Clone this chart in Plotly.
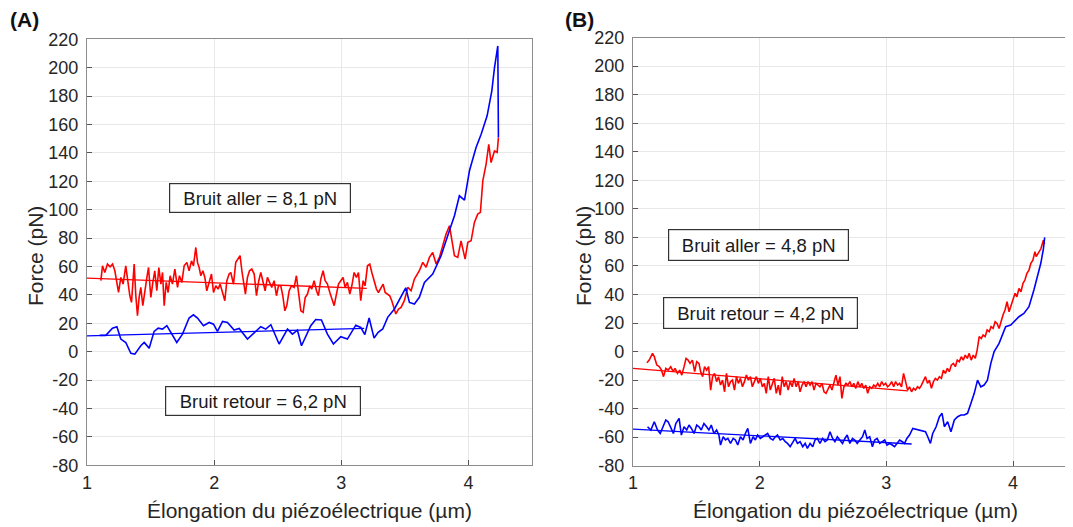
import plotly.graph_objects as go

# ---------------- Panel A data ----------------
a_red_x = [1.109, 1.122, 1.140, 1.161, 1.182, 1.201, 1.219, 1.235, 1.248, 1.266, 1.284, 1.305, 1.318, 1.337,
           1.350, 1.371, 1.384, 1.397, 1.410, 1.423, 1.439, 1.455, 1.471, 1.484, 1.502, 1.518, 1.533, 1.549,
           1.565, 1.581, 1.594, 1.607, 1.623, 1.638, 1.654, 1.672, 1.691, 1.712, 1.727, 1.746, 1.764, 1.785,
           1.803, 1.822, 1.837, 1.856, 1.869, 1.882, 1.895, 1.911, 1.927, 1.942, 1.961, 1.979, 1.995, 2.013,
           2.031, 2.047, 2.066, 2.084, 2.100, 2.118, 2.131, 2.152, 2.170, 2.189, 2.204, 2.218, 2.231, 2.246,
           2.262, 2.278, 2.296, 2.315, 2.333, 2.351, 2.367, 2.385, 2.401, 2.419, 2.438, 2.453, 2.472, 2.490,
           2.506, 2.524, 2.540, 2.556, 2.571, 2.590, 2.608, 2.629, 2.647, 2.663, 2.682, 2.700, 2.716, 2.734,
           2.752, 2.768, 2.786, 2.805, 2.820, 2.839, 2.857, 2.873, 2.891, 2.910, 2.925, 2.944, 2.962, 2.978,
           2.996, 3.014, 3.030, 3.048, 3.067, 3.083, 3.101, 3.119, 3.135, 3.153, 3.172, 3.187, 3.206, 3.224,
           3.240, 3.258, 3.277, 3.292, 3.311, 3.329, 3.345, 3.363, 3.381, 3.397, 3.415, 3.429, 3.450, 3.470,
           3.496, 3.523, 3.549, 3.575, 3.614, 3.641, 3.667, 3.693, 3.719, 3.746, 3.772, 3.798, 3.824, 3.851,
           3.864, 3.890, 3.916, 3.942, 3.974, 3.995, 4.021, 4.047, 4.073, 4.094, 4.113, 4.139, 4.160, 4.178,
           4.205, 4.226, 4.236]
a_red_y = [50.0, 60.5, 55.8, 61.7, 59.8, 61.7, 57.0, 47.6, 41.7, 52.3, 47.6, 60.5, 50.0, 39.4,
           34.7, 61.7, 39.4, 25.3, 38.2, 45.3, 32.4, 44.1, 52.3, 59.3, 38.2, 48.8, 57.0, 42.9,
           59.3, 47.6, 55.8, 32.4, 48.8, 41.7, 53.5, 47.6, 58.2, 45.3, 53.5, 48.8, 60.5, 62.9,
           57.0, 64.0, 60.5, 73.4, 62.9, 59.3, 53.5, 57.0, 52.3, 42.9, 50.0, 54.7, 41.7, 46.4,
           44.1, 47.6, 41.7, 35.9, 50.0, 54.7, 55.8, 47.6, 62.9, 65.2, 67.6, 57.0, 50.0, 40.6,
           52.3, 57.0, 58.2, 54.7, 39.4, 50.0, 55.8, 48.8, 42.9, 52.3, 47.6, 45.3, 50.0, 39.4,
           46.4, 46.4, 39.4, 28.8, 32.4, 42.9, 46.4, 45.3, 53.5, 40.6, 28.8, 27.7, 38.2, 40.6,
           46.4, 44.1, 50.0, 42.9, 39.4, 51.1, 57.0, 50.0, 47.6, 41.7, 38.2, 32.4, 40.6, 47.6,
           50.0, 52.3, 45.3, 48.8, 40.6, 46.4, 55.8, 52.3, 55.8, 35.9, 50.0, 46.4, 60.5, 61.7,
           55.8, 50.0, 44.1, 41.7, 45.3, 47.6, 41.7, 40.6, 39.4, 35.9, 31.3, 26.6, 30.0, 31.2,
           35.9, 45.3, 43.0, 51.2, 57.0, 62.9, 59.4, 66.4, 69.9, 61.7, 66.4, 74.6, 82.8, 88.7,
           80.5, 67.6, 66.4, 78.1, 65.2, 77.0, 78.1, 91.0, 96.9, 98.1, 120.3, 132.1, 146.1, 133.2,
           141.4, 140.3, 150.8]

a_blue_x = [1.100, 1.148, 1.200, 1.235, 1.266, 1.305, 1.345, 1.376, 1.423, 1.450, 1.489, 1.528, 1.560,
            1.594, 1.628, 1.659, 1.706, 1.751, 1.803, 1.837, 1.869, 1.916, 1.961, 1.995, 2.026, 2.066,
            2.105, 2.157, 2.197, 2.262, 2.315, 2.367, 2.406, 2.446, 2.511, 2.577, 2.616, 2.655, 2.687,
            2.760, 2.799, 2.844, 2.891, 2.938, 2.996, 3.048, 3.114, 3.153, 3.185, 3.219, 3.258, 3.290,
            3.326, 3.365, 3.418, 3.470, 3.507, 3.536, 3.575, 3.614, 3.654, 3.719, 3.785, 3.850, 3.890,
            3.929, 3.969, 4.008, 4.060, 4.100, 4.147, 4.184, 4.205, 4.231, 4.236]
a_blue_y = [11.5, 11.5, 16.6, 17.6, 8.9, 6.5, -1.2, -1.7, 4.2, 6.5, 2.5, 14.3, 16.6,
            15.9, 18.3, 13.6, 6.5, 12.4, 23.7, 26.0, 23.7, 18.3, 20.6, 19.4, 14.3, 21.3,
            20.6, 15.2, 16.4, 8.9, 13.6, 17.6, 15.9, 19.0, 5.4, 15.9, 12.4, 15.2, 4.2,
            18.3, 22.7, 22.3, 12.4, 5.4, 10.5, 8.9, 18.7, 17.1, 12.0, 23.7, 9.6, 13.7,
            16.0, 24.2, 30.1, 38.3, 45.0, 34.7, 33.6, 38.3, 48.8, 54.7, 67.6, 85.2, 95.7,
            109.8, 106.8, 127.4, 143.8, 153.2, 166.1, 183.7, 200.1, 215.3, 150.8]

a_red_fit_x = [1.0, 3.2]
a_red_fit_y = [51.8, 44.6]
a_blue_fit_x = [1.0, 3.18]
a_blue_fit_y = [11.2, 16.4]

# ---------------- Panel B data ----------------
b_red_x = [1.110, 1.128, 1.154, 1.168, 1.188, 1.207, 1.225, 1.241, 1.259, 1.277, 1.298, 1.317, 1.332,
           1.351, 1.369, 1.385, 1.403, 1.419, 1.435, 1.450, 1.469, 1.487, 1.503, 1.521, 1.534, 1.550,
           1.565, 1.581, 1.597, 1.613, 1.628, 1.644, 1.660, 1.675, 1.691, 1.707, 1.723, 1.738, 1.754,
           1.770, 1.785, 1.801, 1.817, 1.832, 1.848, 1.864, 1.880, 1.895, 1.911, 1.927, 1.942, 1.958,
           1.974, 1.990, 2.005, 2.021, 2.037, 2.052, 2.068, 2.084, 2.099, 2.115, 2.131, 2.147, 2.162,
           2.178, 2.194, 2.209, 2.225, 2.241, 2.257, 2.272, 2.288, 2.304, 2.319, 2.335, 2.351, 2.366,
           2.382, 2.398, 2.414, 2.429, 2.445, 2.461, 2.476, 2.492, 2.508, 2.524, 2.539, 2.555, 2.571,
           2.586, 2.602, 2.618, 2.634, 2.649, 2.665, 2.681, 2.696, 2.712, 2.728, 2.743, 2.759, 2.775,
           2.791, 2.806, 2.822, 2.838, 2.853, 2.869, 2.885, 2.901, 2.916, 2.932, 2.948, 2.963, 2.979,
           2.995, 3.010, 3.026, 3.042, 3.058, 3.073, 3.089, 3.105, 3.120, 3.136, 3.152, 3.168, 3.183,
           3.199, 3.215, 3.230, 3.246, 3.262, 3.277, 3.293, 3.309, 3.325, 3.340, 3.356, 3.372, 3.387,
           3.403, 3.419, 3.435, 3.450, 3.466, 3.482, 3.497, 3.513, 3.529, 3.545, 3.560, 3.576, 3.592,
           3.607, 3.623, 3.639, 3.654, 3.670, 3.686, 3.702, 3.717, 3.733, 3.749, 3.764, 3.780, 3.796,
           3.812, 3.827, 3.843, 3.859, 3.874, 3.890, 3.906, 3.921, 3.937, 3.953, 3.969, 3.984, 4.000,
           4.016, 4.031, 4.047, 4.063, 4.079, 4.094, 4.110, 4.126, 4.141, 4.157, 4.173, 4.183, 4.199,
           4.220, 4.240, 4.250]
b_red_y = [-7.8, -6.0, -1.3, -3.6, -9.5, -10.6, -13.0, -17.6, -11.8, -13.0, -10.6, -14.1, -11.8,
           -15.3, -13.0, -16.5, -10.6, -4.8, -6.0, -8.3, -6.0, -14.1, -7.1, -8.3, -14.1, -17.6,
           -10.6, -13.0, -10.6, -27.0, -17.6, -15.3, -21.1, -17.6, -23.5, -20.0, -28.2, -15.3, -24.7,
           -21.1, -20.0, -27.0, -17.6, -22.3, -18.8, -24.7, -21.1, -16.5, -20.0, -17.6, -24.7, -21.1,
           -17.6, -22.3, -18.8, -24.7, -22.3, -29.3, -17.6, -27.0, -22.3, -18.8, -29.3, -23.5, -30.5,
           -17.6, -24.7, -21.1, -27.0, -21.1, -24.7, -18.8, -24.7, -21.1, -28.2, -23.5, -21.1, -24.7,
           -21.1, -23.5, -21.1, -27.0, -22.3, -23.5, -24.7, -22.3, -28.2, -29.3, -25.8, -23.5, -27.0,
           -22.3, -16.5, -23.5, -17.6, -32.8, -24.7, -22.3, -23.5, -21.1, -24.7, -22.3, -25.8, -21.1,
           -24.7, -22.3, -25.8, -23.5, -29.3, -24.7, -25.8, -23.5, -24.7, -22.3, -24.7, -21.1, -23.5,
           -22.3, -24.7, -23.5, -21.1, -24.7, -21.1, -23.5, -22.3, -24.7, -15.3, -21.1, -27.0, -24.7,
           -28.2, -25.8, -27.0, -24.7, -25.8, -23.5, -20.0, -17.6, -22.3, -20.0, -25.8, -21.1, -18.8,
           -20.0, -17.6, -18.8, -13.0, -15.3, -11.8, -14.1, -9.5, -8.3, -10.6, -6.0, -7.1, -3.6,
           -6.0, -2.5, -4.8, -1.3, -6.0, -2.5, -4.8, 1.0, 10.4, 9.2, 11.6, 10.4, 15.1,
           13.9, 17.4, 16.2, 20.9, 19.7, 16.2, 22.1, 25.6, 29.1, 34.9, 27.9, 32.6, 36.1,
           40.8, 38.4, 44.3, 41.9, 47.8, 50.1, 54.8, 57.1, 61.8, 64.1, 70.0, 66.5, 68.8,
           72.0, 78.0, 75.5]

b_blue_x = [1.115, 1.141, 1.168, 1.194, 1.215, 1.233, 1.259, 1.277, 1.298, 1.319, 1.338, 1.364, 1.382,
            1.403, 1.424, 1.442, 1.461, 1.482, 1.503, 1.521, 1.539, 1.560, 1.581, 1.599, 1.618, 1.639,
            1.660, 1.678, 1.691, 1.712, 1.730, 1.749, 1.770, 1.791, 1.809, 1.827, 1.848, 1.869, 1.887,
            1.906, 1.927, 1.948, 1.966, 1.984, 2.005, 2.026, 2.045, 2.063, 2.084, 2.105, 2.123, 2.141,
            2.162, 2.183, 2.202, 2.220, 2.241, 2.262, 2.280, 2.298, 2.319, 2.340, 2.359, 2.377, 2.398,
            2.419, 2.437, 2.455, 2.476, 2.497, 2.516, 2.534, 2.555, 2.576, 2.594, 2.613, 2.634, 2.654,
            2.673, 2.691, 2.712, 2.733, 2.751, 2.770, 2.791, 2.812, 2.830, 2.848, 2.869, 2.890, 2.908,
            2.927, 2.948, 2.969, 2.987, 3.005, 3.026, 3.047, 3.065, 3.084, 3.105, 3.126, 3.144, 3.162,
            3.183, 3.209, 3.236, 3.262, 3.288, 3.309, 3.327, 3.348, 3.366, 3.393, 3.419, 3.440, 3.458,
            3.484, 3.510, 3.537, 3.563, 3.589, 3.615, 3.641, 3.668, 3.694, 3.720, 3.746, 3.772, 3.798,
            3.825, 3.851, 3.890, 3.942, 3.982, 4.021, 4.047, 4.086, 4.126, 4.165, 4.191, 4.220, 4.240,
            4.250]
b_blue_y = [-52.7, -55.0, -49.2, -55.0, -57.4, -53.9, -48.0, -49.2, -53.9, -57.4, -50.4, -46.8, -58.5,
            -52.7, -55.0, -51.5, -53.9, -57.4, -51.5, -52.7, -55.0, -50.4, -52.7, -55.0, -51.5, -57.4,
            -55.0, -58.5, -65.5, -59.7, -62.0, -60.9, -64.4, -60.9, -62.0, -65.5, -59.7, -62.0, -57.4,
            -53.9, -64.4, -59.7, -62.0, -58.5, -60.9, -59.7, -58.5, -57.4, -60.9, -62.0, -59.7, -58.5,
            -62.0, -60.9, -63.2, -64.4, -66.7, -63.2, -60.9, -64.4, -63.2, -66.7, -64.4, -67.9, -64.4,
            -66.7, -62.0, -60.9, -64.4, -60.9, -63.2, -62.0, -56.2, -60.9, -63.2, -59.7, -62.0, -64.4,
            -60.9, -58.5, -64.4, -60.9, -62.0, -64.4, -62.0, -59.7, -55.0, -60.9, -59.7, -66.7, -62.0,
            -60.9, -64.4, -63.2, -62.0, -65.5, -64.4, -65.5, -66.7, -64.4, -62.0, -63.2, -64.4, -60.9,
            -58.5, -53.9, -54.6, -55.0, -56.2, -56.2, -59.7, -64.4, -57.4, -52.7, -45.7, -43.3, -52.7,
            -49.2, -56.2, -48.0, -45.7, -44.5, -44.5, -43.3, -36.3, -29.3, -20.0, -24.7, -23.5, -20.0,
            -8.3, -0.1, 5.7, 17.4, 18.6, 22.1, 24.4, 26.7, 31.4, 43.1, 51.3, 62.0, 72.0,
            80.0]

b_red_fit_x = [1.0, 3.17]
b_red_fit_y = [-11.8, -27.5]
b_blue_fit_x = [1.0, 3.2]
b_blue_fit_y = [-54.3, -64.8]

y_ticks = [-80, -60, -40, -20, 0, 20, 40, 60, 80, 100, 120, 140, 160, 180, 200, 220]
y_tick_text = ["-80", "-60", "-40", "-20", "0", "20", "40", "60", "80", "100", "120", "140",
               "160", "180", "200", "220"]
x_ticks = [1, 2, 3, 4]
x_tick_text = ["1", "2", "3", "4"]
labels_a = ["Bruit aller = 8,1 pN", "Bruit retour = 6,2 pN"]
labels_b = ["Bruit aller = 4,8 pN", "Bruit retour = 4,2 pN"]
panel_titles = ["(A)", "(B)"]
x_title = "Élongation du piézoélectrique (µm)"
y_title = "Force (pN)"

RED = "#ff0000"
BLUE = "#0000ff"
# the page body adds an 8px margin at top-left, so the figure is 8px smaller
OFF = 8
W, H = 1073 - OFF, 527 - OFF
FONT = "Liberation Sans, Arial, sans-serif"

fig = go.Figure()

def add(x, y, color, xa, ya, width=1.6):
    fig.add_trace(go.Scatter(x=x, y=y, mode="lines", line=dict(color=color, width=width),
                             xaxis=xa, yaxis=ya, showlegend=False, hoverinfo="skip"))

add(a_red_x, a_red_y, RED, "x", "y")
add(a_blue_x, a_blue_y, BLUE, "x", "y")
add(a_red_fit_x, a_red_fit_y, RED, "x", "y", 1.3)
add(a_blue_fit_x, a_blue_fit_y, BLUE, "x", "y", 1.3)
add(b_red_x, b_red_y, RED, "x2", "y2")
add(b_blue_x, b_blue_y, BLUE, "x2", "y2")
add(b_red_fit_x, b_red_fit_y, RED, "x2", "y2", 1.3)
add(b_blue_fit_x, b_blue_fit_y, BLUE, "x2", "y2", 1.3)

# pixel geometry in screenshot coordinates
ax_a = dict(l=87, r=532, t=39.3, b=465.3)
ax_b = dict(l=633, r=1073, t=37.6, b=465.7)

def px(v):
    return (v - OFF) / W

def py(v):
    return 1 - (v - OFF) / H

AXCOL = "#8c8c8c"
GRID = "#e8e8e8"
TICKFONT = dict(family=FONT, size=18, color="#262626")

def xaxis_cfg(dom, rng, mirror):
    return dict(domain=dom, range=rng, tickvals=x_ticks, ticktext=x_tick_text, showgrid=True,
                gridcolor=GRID, gridwidth=1, zeroline=False, showline=True, linecolor=AXCOL,
                linewidth=1.3, mirror=mirror, ticks="inside", ticklen=5, tickcolor="#555555",
                tickfont=TICKFONT, ticklabelstandoff=1, fixedrange=True, automargin=False)

def yaxis_cfg(dom, anchor, mirror):
    return dict(domain=dom, range=[-80, 220], tickvals=y_ticks, ticktext=y_tick_text, showgrid=True,
                gridcolor=GRID, gridwidth=1, zeroline=False, showline=True, linecolor=AXCOL,
                linewidth=1.3, mirror=mirror, ticks="inside", ticklen=5, tickcolor="#555555",
                tickfont=TICKFONT, anchor=anchor, ticklabelstandoff=4, fixedrange=True,
                automargin=False)

x_range_b = [1, 1 + (ax_b["r"] - ax_b["l"]) / ((1013 - ax_b["l"]) / 3.0)]

fig.update_layout(
    width=W, height=H, margin=dict(l=0, r=0, t=0, b=0, autoexpand=False),
    paper_bgcolor="white", plot_bgcolor="white",
    xaxis=xaxis_cfg([px(ax_a["l"]), px(ax_a["r"])], [1, 4.5], True) | dict(anchor="y"),
    yaxis=yaxis_cfg([py(ax_a["b"]), py(ax_a["t"])], "x", True),
    xaxis2=xaxis_cfg([px(ax_b["l"]), 1.0], x_range_b, True) | dict(anchor="y2"),
    yaxis2=yaxis_cfg([py(ax_b["b"]), py(ax_b["t"])], "x2", False),
)

annots = []
# panel letters
annots.append(dict(text="<b>%s</b>" % panel_titles[0], x=px(8), y=py(20), xanchor="left", yanchor="middle",
                   font=dict(family=FONT, size=21, color="#111111")))
annots.append(dict(text="<b>%s</b>" % panel_titles[1], x=px(563), y=py(20), xanchor="left", yanchor="middle",
                   font=dict(family=FONT, size=21, color="#111111")))
# axis titles
for cx, cy in [(309.5, 510), (855, 510)]:
    annots.append(dict(text=x_title, x=px(cx), y=py(cy), xanchor="center", yanchor="middle",
                       font=dict(family=FONT, size=21, color="#262626")))
for cx, cy in [(35, 256), (583, 256)]:
    annots.append(dict(text=y_title, x=px(cx), y=py(cy), xanchor="center", yanchor="middle", textangle=-90,
                       font=dict(family=FONT, size=21, color="#262626")))
# noise boxes: (label, center x, center y, box width, box height)
boxes = [(labels_a[0], 260, 198, 182, 30), (labels_a[1], 263, 400.5, 196, 30),
         (labels_b[0], 758.5, 245, 181, 32), (labels_b[1], 760.5, 313, 195, 32)]
for txt, cx, cy, bw, bh in boxes:
    annots.append(dict(text=txt, x=px(cx), y=py(cy), xanchor="center", yanchor="middle",
                       width=bw - 6, height=bh - 6, borderpad=2, borderwidth=1.2, bordercolor="#333333",
                       bgcolor="white", align="center",
                       font=dict(family=FONT, size=18.5, color="#1a1a1a")))
for a in annots:
    a.update(xref="paper", yref="paper", showarrow=False)
fig.update_layout(annotations=annots)

fig.write_html("out.html")
